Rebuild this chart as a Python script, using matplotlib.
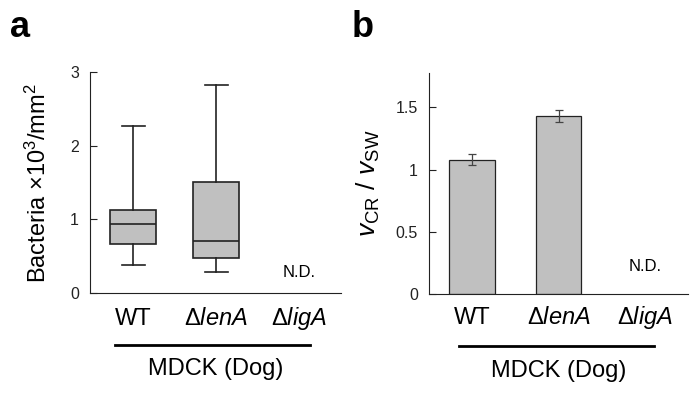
import matplotlib
matplotlib.use("Agg")
import matplotlib.pyplot as plt

plt.rcParams['font.family'] = ['Liberation Sans', 'DejaVu Sans']
plt.rcParams['mathtext.fontset'] = 'custom'
plt.rcParams['mathtext.rm'] = 'Liberation Sans'
plt.rcParams['mathtext.it'] = 'Liberation Sans:italic'

strains = ['WT', 'Δ$\\it{lenA}$', 'Δ$\\it{ligA}$']
# (a) box plot stats (x10^3 bacteria / mm^2)
box_whislo = [0.38, 0.29]
box_q1 = [0.66, 0.47]
box_med = [0.94, 0.71]
box_q3 = [1.13, 1.51]
box_whishi = [2.27, 2.83]
# (b) velocity ratio
ratio = [1.08, 1.43]
ratio_err = [0.045, 0.05]

grey = '#c0c0c0'

fig = plt.figure(figsize=(7, 3.96), dpi=100)

# (a)
ax1 = fig.add_axes([0.1286, 0.260, 0.358, 0.558])
stats = []
for i in range(2):
    stats.append(dict(whislo=box_whislo[i], q1=box_q1[i], med=box_med[i],
                      q3=box_q3[i], whishi=box_whishi[i], fliers=[]))
ax1.bxp(stats, positions=[1, 2], widths=0.55, patch_artist=True, showfliers=False,
        boxprops=dict(facecolor=grey, edgecolor='#222222', linewidth=1.2),
        medianprops=dict(color='#222222', linewidth=1.2),
        whiskerprops=dict(color='#222222', linewidth=1.2),
        capprops=dict(color='#222222', linewidth=1.2))
ax1.set_xlim(0.48, 3.5)
ax1.set_ylim(0, 3)
ax1.set_yticks([0, 1, 2, 3])
ax1.set_yticklabels(['0', '1', '2', '3'])
ax1.set_ylabel('Bacteria ×10$^3$/mm$^2$', fontsize=17, labelpad=14)
ax1.text(3, 0.28, 'N.D.', ha='center', va='center', fontsize=12)

# (b)
ax2 = fig.add_axes([0.613, 0.257, 0.370, 0.559])
ax2.bar([1, 2], ratio, width=0.53, color=grey, edgecolor='#222222', linewidth=0.9)
ax2.errorbar([1, 2], ratio, yerr=ratio_err, fmt='none', ecolor='#444444',
             elinewidth=0.9, capsize=3, capthick=0.9)
ax2.set_xlim(0.5, 3.5)
ax2.set_ylim(0, 1.776)
ax2.set_yticks([0, 0.5, 1, 1.5])
ax2.set_yticklabels(['0', '0.5', '1', '1.5'])
ax2.set_ylabel('$v_{\\mathrm{CR}}$ / $v_{\\mathrm{SW}}$', fontsize=19, labelpad=10)
ax2.text(3, 0.22, 'N.D.', ha='center', va='center', fontsize=12)

for ax, (x0, x1), ylab in [(ax1, (0.78, 3.13), -0.145), (ax2, (0.85, 3.1), -0.135)]:
    ax.spines['top'].set_visible(False)
    ax.spines['right'].set_visible(False)
    ax.spines['left'].set_color('#222222')
    ax.spines['bottom'].set_color('#222222')
    ax.tick_params(axis='y', direction='in', length=5, labelsize=11.5, colors='#222222', pad=8)
    ax.set_xticks([])
    tr = ax.get_xaxis_transform()
    for i, s in enumerate(strains):
        ax.text(i + 1, ylab, s, ha='center', va='baseline', fontsize=17, transform=tr)
    ax.plot([x0, x1], [-0.235, -0.235], color='black', linewidth=2, transform=tr, clip_on=False)
    ax.text(2, -0.345, 'MDCK (Dog)', ha='center', va='center', fontsize=17, transform=tr)

fig.text(0.014, 0.93, 'a', fontsize=26, fontweight='bold', va='center')
fig.text(0.503, 0.93, 'b', fontsize=26, fontweight='bold', va='center')

fig.savefig('out.png', dpi=100)
